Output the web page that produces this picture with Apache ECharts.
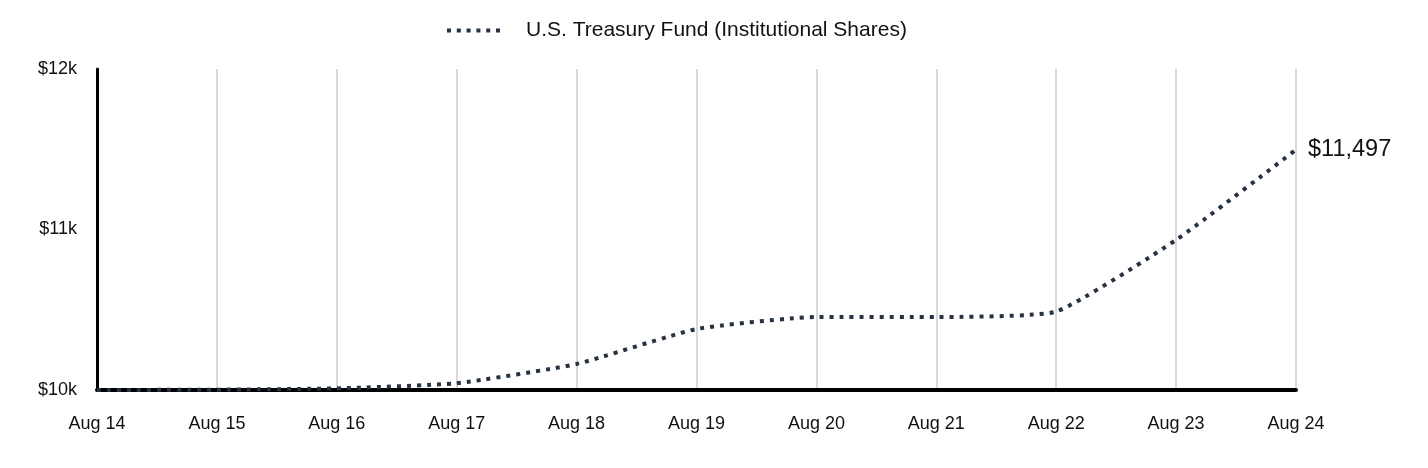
<!DOCTYPE html>
<html><head><meta charset="utf-8">
<script src="https://cdn.jsdelivr.net/npm/echarts@6/dist/echarts.min.js"></script>
<style>html,body{margin:0;padding:0;background:#fff}#c{width:1428px;height:468px}</style>
</head><body><div id="c"></div>
<script>
const categories = ['Aug 14','Aug 15','Aug 16','Aug 17','Aug 18','Aug 19','Aug 20','Aug 21','Aug 22','Aug 23','Aug 24'];
const fundValues = [10000, 10002, 10010, 10042, 10162, 10380, 10455, 10455, 10489, 10935, 11497];
const seriesName = 'U.S. Treasury Fund (Institutional Shares)';
const yTicks = {10000: '$10k', 11000: '$11k', 12000: '$12k'};
const FONT = 'Liberation Sans, Arial, sans-serif';
const dotIcon = 'path://M0,0h4v4h-4z M9.8,0h4v4h-4z M19.6,0h4v4h-4z M29.4,0h4v4h-4z M39.2,0h4v4h-4z M49,0h4v4h-4z';

const chart = echarts.init(document.getElementById('c'));
chart.setOption({
  animation: false,
  textStyle: {fontFamily: FONT},
  legend: {
    top: 15, left: 442, itemWidth: 53, itemHeight: 4,
    textStyle: {fontSize: 21, color: '#111', fontFamily: FONT, padding: [0,0,0,21]},
    data: [{name: seriesName, icon: dotIcon, itemStyle: {color: '#263241'}}]
  },
  grid: {left: 97, right: 132, top: 69, bottom: 78},
  xAxis: {
    type: 'category', data: categories, boundaryGap: false,
    axisLine: {lineStyle: {color: '#000', width: 4}},
    axisTick: {show: false},
    axisLabel: {fontSize: 18, color: '#111', margin: 25, fontFamily: FONT},
    splitLine: {show: true, lineStyle: {color: '#d9d9d9', width: 2}}
  },
  yAxis: {
    type: 'value', min: 10000, max: 12000, interval: 1000,
    axisLine: {show: true, onZero: false, lineStyle: {color: '#000', width: 3}},
    axisTick: {show: false},
    splitLine: {show: false},
    axisLabel: {fontSize: 18, color: '#111', margin: 20, formatter: v => yTicks[v] || '', fontFamily: FONT}
  },
  series: [{
    name: seriesName, type: 'line', data: fundValues, smooth: 0.15,
    showSymbol: false, symbol: 'none', z: 5,
    lineStyle: {color: '#263241', width: 4, type: [4, 6]},
    itemStyle: {color: '#263241'},
    endLabel: {show: true, formatter: p => '$' + p.value.toLocaleString('en-US'), fontSize: 23.5, color: '#111', distance: 12, fontFamily: FONT}
  }]
});
</script></body></html>
